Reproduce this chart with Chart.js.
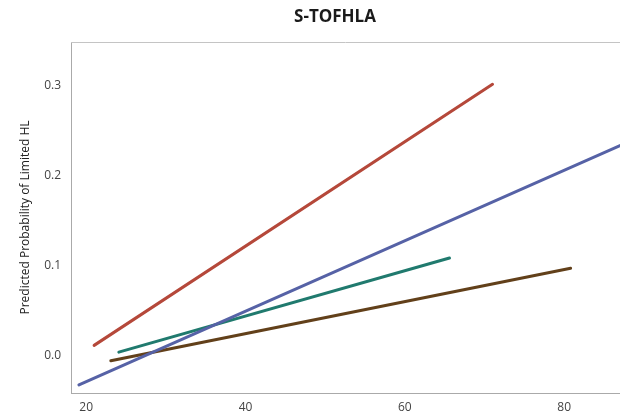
<!DOCTYPE html>
<html>
<head>
<meta charset="utf-8">
<script src="https://cdn.jsdelivr.net/npm/chart.js@4/dist/chart.umd.min.js"></script>
<style>
  html, body { margin: 0; padding: 0; background: #fff; }
  #wrap { width: 620px; height: 412px; }
</style>
</head>
<body>
<div id="wrap"><canvas id="chart"></canvas></div>
<script>
const chartTitle = 'S-TOFHLA';
const yTitle = 'Predicted Probability of Limited HL';
const xTicks = [20, 40, 60, 80];
const yTicks = [0.0, 0.1, 0.2, 0.3];

// each fitted line: start and end (age, probability)
const redX = [21.0, 71.0];
const redY = [0.011, 0.301];
const blueX = [19.1, 87.0];
const blueY = [-0.033, 0.233];
const tealX = [24.1, 65.6];
const tealY = [0.0035, 0.108];
const brownX = [23.1, 80.8];
const brownY = [-0.006, 0.0966];

function pts(xs, ys) {
    return xs.map((x, i) => ({ x: x, y: ys[i] }));
}

function line(xs, ys, color) {
    return {
        data: pts(xs, ys),
        showLine: true,
        borderColor: color,
        backgroundColor: color,
        borderWidth: 3,
        pointRadius: 0,
        borderCapStyle: 'round',
        clip: 2
    };
}

const frame = {
    id: 'frame',
    afterDraw(chart) {
        const { ctx, chartArea: a } = chart;
        ctx.save();
        ctx.strokeStyle = '#c4c4c4';
        ctx.lineWidth = 1;
        ctx.beginPath();
        ctx.moveTo(a.left, a.top + 0.5);
        ctx.lineTo(chart.width, a.top + 0.5);
        ctx.stroke();
        ctx.fillStyle = '#1a1a1a';
        ctx.font = 'bold 17px "Open Sans", "Noto Sans", sans-serif';
        ctx.textAlign = 'center';
        ctx.textBaseline = 'middle';
        ctx.fillText(chartTitle, 335, 17);
        ctx.restore();
    }
};

new Chart(document.getElementById('chart'), {
    type: 'scatter',
    data: {
        datasets: [
            line(redX, redY, 'rgb(181, 72, 58)'),
            line(blueX, blueY, 'rgb(86, 98, 166)'),
            line(tealX, tealY, 'rgb(32, 122, 110)'),
            line(brownX, brownY, 'rgb(98, 64, 26)')
        ]
    },
    options: {
        responsive: true,
        maintainAspectRatio: false,
        animation: false,
        layout: { padding: { top: 42, right: 0, left: 0, bottom: 0 } },
        plugins: {
            legend: { display: false },
            tooltip: { enabled: false }
        },
        scales: {
            x: {
                type: 'linear',
                min: 18.1,
                max: 87,
                afterBuildTicks: s => { s.ticks = xTicks.map(v => ({ value: v })); },
                afterFit: s => { s.height = 19; },
                grid: { display: false, drawTicks: true, tickLength: 5, tickColor: '#bbb' },
                border: { color: '#aaa', width: 1 },
                ticks: {
                    color: '#444',
                    padding: 2,
                    font: { family: '"Open Sans", "Noto Sans", sans-serif', size: 12 }
                }
            },
            y: {
                min: -0.0419,
                max: 0.348,
                afterBuildTicks: s => { s.ticks = yTicks.map(v => ({ value: v })); },
                afterFit: s => { s.width = 71; },
                grid: { display: false, drawTicks: true, tickLength: 6, tickColor: '#bbb' },
                border: { color: '#aaa', width: 1 },
                ticks: {
                    color: '#444',
                    padding: 4,
                    callback: v => v.toFixed(1),
                    font: { family: '"Open Sans", "Noto Sans", sans-serif', size: 12 }
                },
                title: {
                    display: true,
                    text: yTitle,
                    color: '#222',
                    padding: { top: 18, bottom: 0 },
                    font: { family: '"Open Sans", "Noto Sans", sans-serif', size: 12 }
                }
            }
        }
    },
    plugins: [frame]
});
</script>
</body>
</html>
